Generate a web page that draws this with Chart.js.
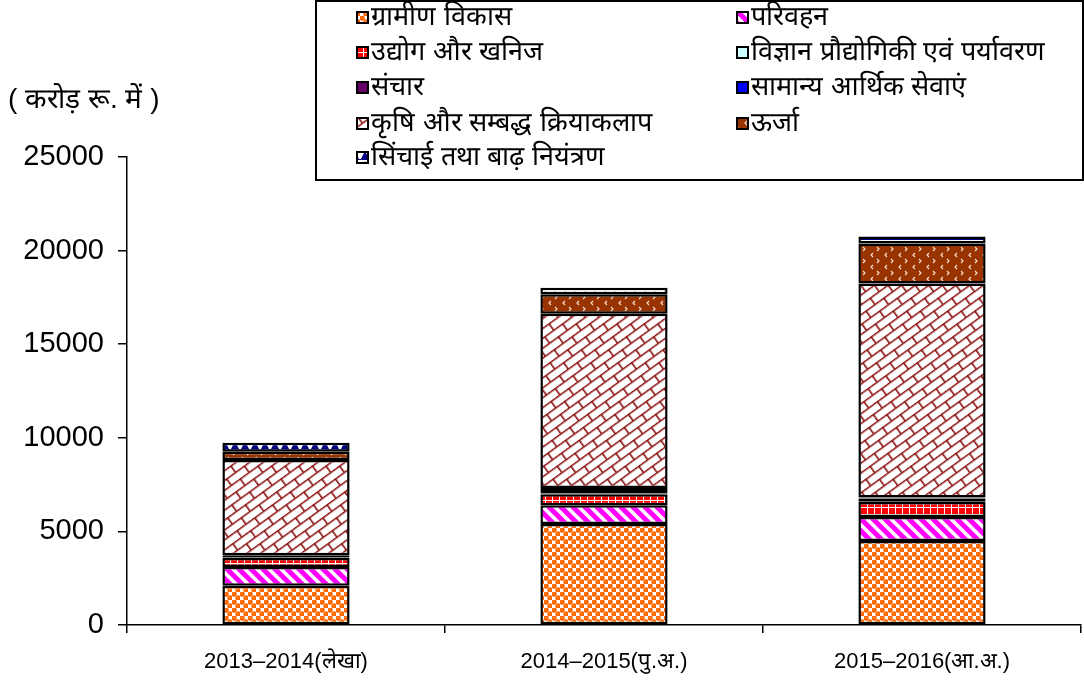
<!DOCTYPE html>
<html><head><meta charset="utf-8">
<script src="https://cdn.jsdelivr.net/npm/chart.js@4.4.1/dist/chart.umd.min.js"></script>
<style>html,body{margin:0;padding:0;background:#fff;}canvas{display:block}</style>
</head><body>
<canvas id="c" width="1084" height="681"></canvas>
<script>
const categories = ['2013–2014(लेखा)', '2014–2015(पु.अ.)', '2015–2016(आ.अ.)'];
const seriesNames = ['ग्रामीण विकास', 'परिवहन', 'उद्योग और खनिज', 'विज्ञान प्रौद्योगिकी एवं पर्यावरण', 'संचार', 'सामान्य आर्थिक सेवाएं', 'कृषि और सम्बद्ध क्रियाकलाप', 'ऊर्जा', 'सिंचाई तथा बाढ़ नियंत्रण'];
const ruralDev = [2100, 5400, 4490];
const transport = [1000, 1000, 1280];
const industry = [480, 580, 800];
const science = [30, 40, 40];
const communication = [80, 250, 150];
const generalEcon = [30, 50, 50];
const agriculture = [5100, 9300, 11430];
const energy = [430, 1050, 2140];
const irrigation = [480, 350, 370];
const yTicks = [0, 5000, 10000, 15000, 20000, 25000];
const unitLabel = '( करोड़ रू. में )';

const canvas = document.getElementById('c');
const mctx = canvas.getContext('2d');
function pat(w, h, draw, rot) {
  const t = document.createElement('canvas'); t.width = w; t.height = h;
  const x = t.getContext('2d'); draw(x, w, h);
  const p = mctx.createPattern(t, 'repeat');
  if (rot && p.setTransform) p.setTransform(new DOMMatrix().rotateSelf(rot));
  return p;
}
const pRural = pat(8, 8, (x) => {
  x.fillStyle = '#fff'; x.fillRect(0, 0, 8, 8);
  x.fillStyle = '#ff6600';
  [[2, 2], [6, 6]].forEach(([a, b]) => { x.beginPath(); x.arc(a, b, 2.7, 0, Math.PI * 2); x.fill(); });
  x.fillStyle = '#ffb080'; x.fillRect(1, 1, 1, 1); x.fillRect(5, 5, 1, 1);
});
const pTransport = pat(12, 12, (x) => {
  x.fillStyle = '#ff00ff'; x.fillRect(0, 0, 12, 12);
  x.strokeStyle = '#fff'; x.lineWidth = 3.5;
  for (let k = -1; k <= 1; k++) { x.beginPath(); x.moveTo(k * 12 - 2, -2); x.lineTo(k * 12 + 14, 14); x.stroke(); }
});
const pIndustry = pat(7, 7, (x) => {
  x.fillStyle = '#ff0000'; x.fillRect(0, 0, 7, 7);
  x.fillStyle = '#fff'; x.fillRect(6, 0, 1, 7); x.fillRect(0, 3, 7, 1);
});
const pAgri = pat(22, 16, (x) => {
  x.fillStyle = '#fff'; x.fillRect(0, 0, 22, 16);
  x.strokeStyle = '#8b0f0f'; x.lineWidth = 1.6;
  x.beginPath(); x.moveTo(0, 0.8); x.lineTo(22, 0.8); x.moveTo(0, 8.8); x.lineTo(22, 8.8);
  x.moveTo(0.8, 0); x.lineTo(0.8, 8.8); x.moveTo(11.8, 8.8); x.lineTo(11.8, 16); x.stroke();
}, -36);
const pEnergy = pat(14, 12, (x) => {
  x.fillStyle = '#993300'; x.fillRect(0, 0, 14, 12);
  x.strokeStyle = '#f6dccc'; x.lineWidth = 1.2;
  x.beginPath(); x.moveTo(5, 1); x.lineTo(3, 3); x.lineTo(5, 5);
  x.moveTo(9, 7); x.lineTo(11, 9); x.lineTo(9, 11); x.stroke();
});
const pIrrig = pat(10, 10, (x) => {
  x.fillStyle = '#fff'; x.fillRect(0, 0, 10, 10);
  x.fillStyle = '#000080';
  x.beginPath(); x.moveTo(5, 1); x.lineTo(1, 9); x.lineTo(9, 9); x.closePath(); x.fill();
  x.fillRect(0, 9, 10, 1);
});
const fills = [pRural, pTransport, pIndustry, '#ccffff', '#660066', '#0000ff', pAgri, pEnergy, pIrrig];
const values = [ruralDev, transport, industry, science, communication, generalEcon, agriculture, energy, irrigation];

const datasets = values.map((v, i) => ({
  label: seriesNames[i], data: v, backgroundColor: fills[i],
  borderColor: '#000', borderWidth: 2.5, borderSkipped: false,
  barPercentage: 0.4, categoryPercentage: 1.0
}));

const FONT = "'Liberation Sans', Arial, sans-serif";
const legendPlugin = {
  id: 'customLegend',
  afterDraw(chart) {
    const ctx = chart.ctx;
    ctx.save();
    ctx.strokeStyle = '#000'; ctx.lineWidth = 2;
    ctx.strokeRect(316, 1, 767, 179);
    ctx.font = "27px " + FONT;
    ctx.textBaseline = 'middle'; ctx.fillStyle = '#000';
    const rows = [18, 53, 88, 124, 158];
    chart.data.datasets.forEach((ds, i) => {
      const col = i % 2, row = Math.floor(i / 2);
      const sx = col === 0 ? 357 : 737;
      const y = rows[row];
      ctx.fillStyle = ds.backgroundColor;
      ctx.fillRect(sx, y - 6, 11, 11);
      ctx.strokeStyle = '#000'; ctx.lineWidth = 2;
      ctx.strokeRect(sx, y - 6, 11, 11);
      ctx.fillStyle = '#000';
      ctx.fillText(ds.label, sx + 14, y);
    });
    ctx.font = "28px " + FONT;
    ctx.fillText(unitLabel, 8, 100);
    ctx.restore();
  }
};

new Chart(canvas, {
  type: 'bar',
  data: { labels: categories, datasets },
  options: {
    responsive: false, animation: false,
    layout: { padding: { left: 0, right: 3, top: 157, bottom: 0 } },
    plugins: { legend: { display: false }, tooltip: { enabled: false }, title: { display: false } },
    scales: {
      x: {
        stacked: true,
        grid: { display: true, drawOnChartArea: false, drawTicks: true, tickLength: 8, color: '#000', lineWidth: 1.5, offset: true },
        border: { display: true, color: '#000', width: 1.5 },
        ticks: { color: '#000', font: { family: FONT, size: 22 }, padding: 16, maxRotation: 0 },
        afterFit(s) { s.height = 56; }
      },
      y: {
        stacked: true, min: 0, max: 25000,
        afterBuildTicks(s) { s.ticks = yTicks.map(v => ({ value: v })); },
        grid: { display: true, drawOnChartArea: false, drawTicks: true, tickLength: 9, color: '#000', lineWidth: 1.5 },
        border: { display: true, color: '#000', width: 1.5 },
        ticks: { color: '#000', font: { family: FONT, size: 29 }, padding: 14, callback: (v) => String(v) },
        afterFit(s) { s.width = 127; }
      }
    }
  },
  plugins: [legendPlugin]
});
</script>
</body></html>
